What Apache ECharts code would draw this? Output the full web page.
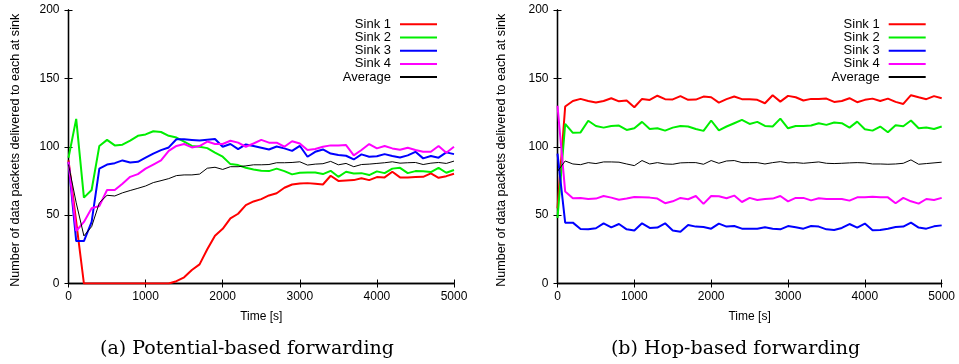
<!DOCTYPE html>
<html><head><meta charset="utf-8">
<script src="https://cdn.jsdelivr.net/npm/echarts@6/dist/echarts.min.js"></script>
<style>html,body{margin:0;padding:0;background:#fff}#c{width:959px;height:364px}</style>
</head><body><div id="c"></div>
<script>
const times = [0,100,200,300,400,500,600,700,800,900,1000,1100,1200,1300,1400,1500,1600,1700,1800,1900,2000,2100,2200,2300,2400,2500,2600,2700,2800,2900,3000,3100,3200,3300,3400,3500,3600,3700,3800,3900,4000,4100,4200,4300,4400,4500,4600,4700,4800,4900,5000];
const seriesNames = ["Sink 1","Sink 2","Sink 3","Sink 4","Average"];
const xTickValues = [0,1000,2000,3000,4000,5000];
const yTickValues = [0,50,100,150,200];
const captions = ["(a) Potential-based forwarding","(b) Hop-based forwarding"];
const xName = "Time [s]";
const yName = "Number of data packets delivered to each at sink";

// (a) Potential-based forwarding
const potSink1 = [90,45,0,0,0,0,0,0,0,0,0,0,0,0,1.7,4.5,9.9,14,25,35,40,47.6,51,57.3,60,61.7,64.4,66,70,72.4,73.2,73.4,73,72.4,78.8,75,75.4,75.6,77,75.6,77.8,77.6,81.7,77.6,77.6,77.8,78,80.5,77.3,78.5,80.2];
const potSink2 = [92,120.4,62.8,68.4,100.6,105,101,101.5,104.5,108,109,111.3,110.8,108,106.7,103.8,100.6,100,99,95.7,92.7,87.3,86.6,84.6,83.4,82.4,82.2,84,82.2,79.8,81,81.2,81.2,80,82.4,78,81.7,80.5,80.7,79.3,82,80.7,84,84.6,80.7,82.2,82,81.5,84.6,81,83];
const potSink3 = [89,31,31,45,84,87,88,90,88.5,89,92,95,97.5,99.5,105.5,105.5,105,104.5,105.2,105.7,100,102,98.3,101.7,100.5,99.3,98,100.2,98.8,97,100.7,92.7,96.3,98,95,93.9,93.4,90.7,94.4,92.7,93,94.6,93.2,92.2,93.7,96.3,91.5,93.2,92,95.9,94.6];
const potSink4 = [89,38.4,45,55,56.7,68.4,68.4,73,78,80,84,87,90,97,100.6,102,99.5,100.5,103.8,102,102,104.4,103,100,102.4,105,103,103,100,104,102.4,97.6,98.3,100,101,101,101.2,93.7,97.6,102,98.8,100.5,98.8,97.8,99.3,97.6,96.3,96.3,100.5,95.6,100];
const potAverage = [87,59,34.8,41.6,59,64.5,64,66.3,68,69.6,71.3,73.8,75.2,76.7,78.9,79.4,79.4,80,84.3,85,83.4,85.4,85.4,86,86.8,86.8,87,88.3,88.3,88.5,89,86.6,87.3,87.6,89.3,86.8,87.8,85.4,87,87.3,87.8,88.3,89,88,88.3,88.5,87,88,88.5,87.8,89.5];

// (b) Hop-based forwarding
const hopSink1 = [55,129.4,133.5,135,133.5,132.3,133.5,135.5,133.2,133.8,128.9,135,134.2,137.3,134.8,134.6,137,134.3,134.5,136.7,136.2,132.3,134.8,136.7,134.8,134.8,134.3,131.8,137.7,133,137.2,136.2,133.8,135,135,135.2,132.8,133.5,135.5,132.6,134.3,135.2,133.5,135.2,132.8,131.3,137.7,136.2,134.8,137,135.5];
const hopSink2 = [48,116.7,110.2,110.5,119,115.2,114,115.2,115.5,112.3,113.5,118.2,113,113.5,111.8,114,115.2,114.8,113,111.6,119.2,112,114.8,117.2,119.6,116.7,118.2,115.2,114.8,120.6,113.5,115.2,115.2,115.5,117.2,116,117.7,117.2,114,118.4,112.8,111.8,114.8,110.6,115.7,115,119.2,113.5,114,113,114.8];
const hopSink3 = [95,44.5,44.5,39.9,39.6,40.4,44,41.1,43.5,39.6,38.7,44,40.6,40.9,44,38.7,37.9,42.8,41.6,41.3,40.1,43.8,41.6,42,40.1,40.1,40.1,41.1,40.1,39.6,42,41.1,40.1,42,41.6,39.6,39.1,40.6,43.5,40.9,43.8,38.9,39.1,40.1,41.3,41.6,44.5,40.9,40.1,41.8,42.5];
const hopSink4 = [130,67.2,62.3,62.6,61.8,62.1,64,62.8,61.3,62.1,63.3,63.1,62.8,62.1,58.7,60.1,62.6,61.6,64,58.2,64,63.8,62.3,64.3,59.6,62.6,61.1,61.8,62.1,64,60.1,62.6,62.6,60.8,62.3,61.8,61.8,61.8,60.6,63,63,63.5,63,63,58.7,62.6,60.1,58.4,61.8,61.1,62.6];
const hopAverage = [82,89.6,87.4,86.9,88.4,87.7,88.9,88.9,88.7,87.4,86.2,89.9,87.4,88.4,87.4,87.2,88.2,88.4,88.4,87.2,89.9,87.9,89.6,89.9,88.4,88.4,88.4,87.4,88.4,89.1,88.2,88.4,87.9,88.4,88.9,87.9,87.7,87.9,88.2,88.4,88.2,87.4,87.4,87.2,87.4,87.9,90.4,87.2,87.7,88.2,88.7];

const panels = [
  {data:[potSink1,potSink2,potSink3,potSink4,potAverage]},
  {data:[hopSink1,hopSink2,hopSink3,hopSink4,hopAverage]}
];
const colors = ['#ff0000','#00ee00','#0000ff','#ff00ff','#000000'];
const widths = [2,2,2,2,1];
const FONT = 'Liberation Sans, Arial, sans-serif';

const gridsPos = [
  {left:68.5, top:10, width:385.5, height:273.5},
  {left:557.5, top:10, width:384.2, height:273.5}
];

const xMin = xTickValues[0], xMax = xTickValues[xTickValues.length-1];
const yMin = yTickValues[0], yMax = yTickValues[yTickValues.length-1];
const xInt = xTickValues[1]-xTickValues[0], yInt = yTickValues[1]-yTickValues[0];

const xAxes = [], yAxes = [], series = [], legends = [], graphics = [];
const axisLine = {show:true, lineStyle:{color:'#000', width:1.3}};
const tick = {show:true, inside:true, length:4, lineStyle:{color:'#000', width:1}};
const nameGaps = [46, 49];
const legendRight = [521, 32.3];
const captionCenters = [247, 735.5];

gridsPos.forEach((g, gi) => {
  xAxes.push({gridIndex:gi, type:'value', position:'bottom', min:xMin, max:xMax, interval:xInt,
    axisLine, axisTick:tick, splitLine:{show:false},
    axisLabel:{show:true, margin:7, color:'#000', fontFamily:FONT, fontSize:12, formatter:v=>String(v)},
    name:xName, nameLocation:'middle', nameGap:27,
    nameTextStyle:{color:'#000', fontFamily:FONT, fontSize:12}});
  xAxes.push({gridIndex:gi, type:'value', position:'top', min:xMin, max:xMax, interval:xInt,
    axisLine, axisTick:tick, splitLine:{show:false}, axisLabel:{show:false}});
  yAxes.push({gridIndex:gi, type:'value', position:'left', min:yMin, max:yMax, interval:yInt,
    axisLine, axisTick:tick, splitLine:{show:false},
    axisLabel:{show:true, margin:9, color:'#000', fontFamily:FONT, fontSize:12, formatter:v=>String(v)},
    name:yName, nameLocation:'middle', nameGap:nameGaps[gi], nameRotate:90,
    nameTextStyle:{color:'#000', fontFamily:FONT, fontSize:12.6, padding:[0,7,0,0]}});
  yAxes.push({gridIndex:gi, type:'value', position:'right', min:yMin, max:yMax, interval:yInt,
    axisLine, axisTick:tick, splitLine:{show:false}, axisLabel:{show:false}});
  panels[gi].data.forEach((vals, si) => {
    series.push({
      name: seriesNames[si], type:'line', xAxisIndex: gi*2, yAxisIndex: gi*2,
      data: vals.map((v,i)=>[times[i], v]),
      symbol:'none', showSymbol:false, smooth:false, animation:false,
      lineStyle:{color:colors[si], width:widths[si]},
      itemStyle:{color:colors[si]}, z: 2+si
    });
  });
  legends.push({
    orient:'vertical', right:legendRight[gi], top:17.7, align:'right', padding:0,
    itemWidth:37, itemHeight:10, itemGap:0,
    data: seriesNames,
    itemStyle:{opacity:0},
    textStyle:{color:'#000', fontFamily:FONT, fontSize:13, lineHeight:13.2, padding:[0,4,0,0]},
    selectedMode:false
  });
  graphics.push({type:'text', x: captionCenters[gi], y: 349,
    style:{text:captions[gi], font:'19px "DejaVu Serif", serif', fill:'#000', textAlign:'center', textVerticalAlign:'middle'}});
});

const chart = echarts.init(document.getElementById('c'), null, {renderer:'canvas'});
chart.setOption({
  animation:false,
  backgroundColor:'#fff',
  grid: gridsPos.map(g => Object.assign({containLabel:false}, g)),
  xAxis: xAxes, yAxis: yAxes, series, legend: legends, graphic: graphics
});
</script></body></html>
